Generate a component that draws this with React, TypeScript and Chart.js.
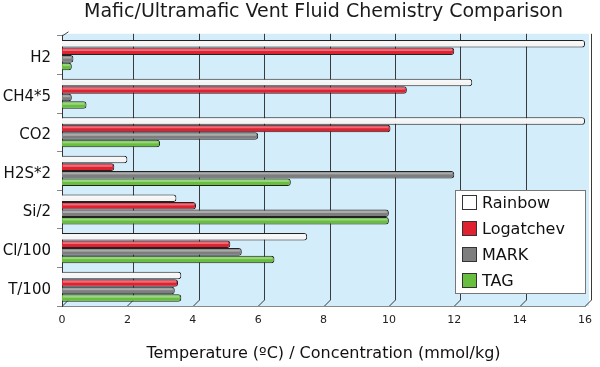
import React, { useEffect, useRef } from "react";
import { Chart, registerables } from "chart.js";

Chart.register(...registerables);

const categories = ["H2", "CH4*5", "CO2", "H2S*2", "Si/2", "Cl/100", "T/100"];
const rainbow = [16, 12.55, 16, 2.0, 3.5, 7.5, 3.65];
const logatchev = [12.0, 10.55, 10.05, 1.6, 4.1, 5.15, 3.55];
const mark = [0.35, 0.3, 6.0, 12.0, 10.0, 5.5, 3.45];
const tag = [0.3, 0.75, 3.0, 7.0, 10.0, 6.5, 3.65];
const seriesNames = ["Rainbow", "Logatchev", "MARK", "TAG"];
const seriesColors = ["#F4F4F4", "#DF2130", "#7E7E7E", "#68BF3E"];
const xTicks = [0, 2, 4, 6, 8, 10, 12, 14, 16];

const FONT = "'DejaVu Sans', sans-serif";
const DEPTH = 6;

const bgPlugin = {
  id: "plotBg",
  beforeDraw(chart: any) {
    const { ctx, chartArea } = chart;
    ctx.save();
    ctx.fillStyle = "#D3EDFA";
    ctx.fillRect(chartArea.left, chartArea.top - 2, chartArea.right - chartArea.left + 4, chartArea.bottom - chartArea.top + 2);
    ctx.restore();
  },
  beforeDatasetsDraw(chart: any) {
    const { ctx, chartArea } = chart;
    const xs = chart.scales.x;
    ctx.save();
    ctx.strokeStyle = "#3a3a3a";
    ctx.lineWidth = 1;
    xTicks.forEach((v) => {
      const px = Math.round(xs.getPixelForValue(v)) + 0.5;
      ctx.beginPath();
      if (v !== 0) {
        ctx.moveTo(px + DEPTH, chartArea.top - 2);
        ctx.lineTo(px + DEPTH, chartArea.bottom - DEPTH);
      }
      ctx.moveTo(px + DEPTH, chartArea.bottom - DEPTH);
      ctx.lineTo(px, chartArea.bottom);
      ctx.stroke();
    });
    ctx.strokeStyle = "#444";
    ctx.beginPath();
    const lx = Math.round(xs.getPixelForValue(0)) + 0.5;
    ctx.moveTo(lx + DEPTH, chartArea.top - 4);
    ctx.lineTo(lx, chartArea.top);
    ctx.stroke();
    ctx.restore();
  },
};

const shinePlugin = {
  id: "shine",
  afterDatasetsDraw(chart: any) {
    const { ctx } = chart;
    ctx.save();
    chart.data.datasets.forEach((ds: any, i: number) => {
      const meta = chart.getDatasetMeta(i);
      meta.data.forEach((bar: any) => {
        const h = bar.height;
        const x0 = bar.base + 1;
        const x1 = bar.x - 2;
        if (x1 <= x0) return;
        ctx.fillStyle = "rgba(255,255,255,0.35)";
        ctx.fillRect(x0, bar.y - h / 2 + 1.5, x1 - x0, 2);
      });
    });
    ctx.restore();
  },
};

const legendPlugin = {
  id: "boxLegend",
  afterDraw(chart: any) {
    const { ctx } = chart;
    ctx.save();
    const x = 455, y = 190, w = 130, h = 103;
    ctx.fillStyle = "#FFFFFF";
    ctx.fillRect(x, y, w, h);
    ctx.strokeStyle = "#777";
    ctx.lineWidth = 1;
    ctx.strokeRect(x + 0.5, y + 0.5, w, h);
    ctx.font = `16px ${FONT}`;
    ctx.textBaseline = "middle";
    seriesNames.forEach((name, i) => {
      const cy = y + 13 + i * 26;
      ctx.fillStyle = seriesColors[i] === "#F4F4F4" ? "#FFFFFF" : seriesColors[i];
      ctx.fillRect(x + 7.5, cy - 7.5, 14, 14);
      ctx.strokeStyle = "#333";
      ctx.strokeRect(x + 7.5, cy - 7.5, 14, 14);
      ctx.fillStyle = "#111";
      ctx.fillText(name, x + 27, cy + 1);
    });
    ctx.restore();
  },
};

export default function App() {
  const ref = useRef<HTMLCanvasElement>(null);
  useEffect(() => {
    const values = [rainbow, logatchev, mark, tag];
    const chart = new Chart(ref.current as HTMLCanvasElement, {
      type: "bar",
      data: {
        labels: categories,
        datasets: seriesNames.map((n, i) => ({
          label: n,
          data: values[i],
          backgroundColor: seriesColors[i],
          borderColor: "#222",
          borderWidth: 1,
          borderSkipped: "start",
          borderRadius: { topRight: 3, bottomRight: 3, topLeft: 0, bottomLeft: 0 },
          categoryPercentage: 0.78,
          barPercentage: 1.0,
        })),
      },
      options: {
        indexAxis: "y",
        animation: false,
        responsive: true,
        maintainAspectRatio: false,
        layout: { padding: { left: 0, right: 0, top: 0, bottom: 4 } },
        plugins: {
          legend: { display: false },
          tooltip: { enabled: false },
          title: {
            display: true,
            fullSize: false,
            text: "Mafic/Ultramafic Vent Fluid Chemistry Comparison",
            color: "#1a1a1a",
            font: { family: FONT, size: 19, weight: "normal" },
            padding: { top: 1, bottom: 12 },
          },
        },
        scales: {
          x: {
            type: "linear",
            min: 0,
            max: 16,
            afterBuildTicks: (scale: any) => {
              scale.ticks = xTicks.map((v) => ({ value: v }));
            },
            afterFit: (scale: any) => {
              scale.height = 57;
            },
            ticks: {
              color: "#222",
              font: { family: FONT, size: 11 },
              padding: 8,
            },
            grid: { display: false, drawTicks: false, tickLength: 6 },
            border: { display: true, color: "#888" },
            title: {
              display: true,
              text: "Temperature (ºC) / Concentration (mmol/kg)",
              color: "#111",
              font: { family: FONT, size: 16 },
              padding: { top: 12, bottom: 0 },
            },
          },
          y: {
            afterFit: (scale: any) => {
              scale.width = 62;
            },
            ticks: {
              color: "#111",
              font: { family: FONT, size: 15 },
              padding: 6,
              labelOffset: 3,
            },
            grid: { drawOnChartArea: false, tickLength: 5, color: "#888" },
            border: { display: true, color: "#333" },
          },
        },
      },
      plugins: [bgPlugin, shinePlugin, legendPlugin],
    } as any);
    return () => chart.destroy();
  }, []);
  return (
    <div style={{ position: "fixed", left: 0, top: 0, width: 600, height: 367, background: "#fff" }}>
      <canvas ref={ref} />
    </div>
  );
}
